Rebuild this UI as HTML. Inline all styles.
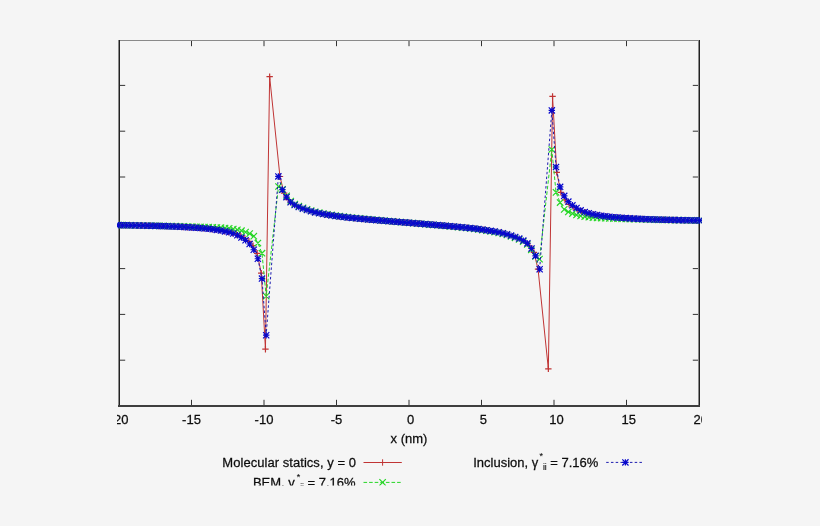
<!DOCTYPE html>
<html><head><meta charset="utf-8"><style>
html,body{margin:0;padding:0;background:#f5f5f5;}
svg{display:block;}
text{font-family:"Liberation Sans",Arial,sans-serif;font-size:13px;fill:#0d0d0d;stroke:#0d0d0d;stroke-width:0.25px;}
</style></head><body>
<svg width="820" height="526" viewBox="0 0 820 526"><defs><clipPath id="c"><rect x="117" y="0" width="585" height="485.4"/></clipPath><clipPath id="p"><rect x="117" y="36" width="586" height="372"/></clipPath></defs><rect width="820" height="526" fill="#f5f5f5"/><g clip-path="url(#c)"><rect x="118" y="40" width="582" height="1" fill="#8a8a8a"/><rect x="118" y="40" width="1" height="367" fill="#8a8a8a"/><rect x="119" y="40" width="1" height="367" fill="#222222"/><rect x="698" y="40" width="1" height="367" fill="#8a8a8a"/><rect x="699" y="40" width="1" height="367" fill="#222222"/><rect x="118" y="405" width="582" height="2" fill="#3e3e3e"/><path d="M120,85.4h5.2M698,85.4h-5.2M120,131.2h5.2M698,131.2h-5.2M120,177.0h5.2M698,177.0h-5.2M120,222.8h5.2M698,222.8h-5.2M120,268.6h5.2M698,268.6h-5.2M120,314.4h5.2M698,314.4h-5.2M120,360.2h5.2M698,360.2h-5.2M191.5,405v-5.2M191.5,41v5.2M264.0,405v-5.2M264.0,41v5.2M336.5,405v-5.2M336.5,41v5.2M409.0,405v-5.2M409.0,41v5.2M481.5,405v-5.2M481.5,41v5.2M554.0,405v-5.2M554.0,41v5.2M626.5,405v-5.2M626.5,41v5.2" stroke="#333" stroke-width="1" fill="none"/><text transform="translate(119.0,424) scale(1,1.04)" text-anchor="middle">-20</text><text transform="translate(191.5,424) scale(1,1.04)" text-anchor="middle">-15</text><text transform="translate(264.0,424) scale(1,1.04)" text-anchor="middle">-10</text><text transform="translate(336.5,424) scale(1,1.04)" text-anchor="middle">-5</text><text transform="translate(410.6,424) scale(1,1.04)" text-anchor="middle">0</text><text transform="translate(483.4,424) scale(1,1.04)" text-anchor="middle">5</text><text transform="translate(556.4,424) scale(1,1.04)" text-anchor="middle">10</text><text transform="translate(628.7,424) scale(1,1.04)" text-anchor="middle">15</text><text transform="translate(700.8,424) scale(1,1.04)" text-anchor="middle">20</text><text transform="translate(409,443) scale(1,1.04)" text-anchor="middle">x (nm)</text><g clip-path="url(#p)" fill="none"><path d="M121.78,225.19 L125.88,225.25 L129.98,225.32 L134.08,225.40 L138.18,225.48 L142.29,225.57 L146.39,225.66 L150.49,225.76 L154.59,225.87 L158.69,225.98 L162.80,226.11 L166.90,226.25 L171.00,226.40 L175.10,226.57 L179.20,226.75 L183.31,226.96 L187.41,227.19 L191.51,227.44 L195.61,227.71 L199.71,228.01 L203.82,228.34 L207.92,228.74 L212.02,229.22 L216.12,229.77 L220.22,230.42 L224.33,231.20 L228.43,232.11 L232.53,233.05 L236.63,234.44 L240.73,236.30 L244.84,238.48 L248.94,241.29 L253.04,245.63 L257.14,253.30 L261.25,273.20 L265.45,349.20 L269.65,76.70 L279.95,176.50 L284.11,193.21 L288.28,199.60 L292.44,203.60 L296.60,206.00 L300.76,207.86 L304.93,209.34 L309.09,210.70 L313.25,211.93 L317.42,212.90 L321.58,213.73 L325.74,214.47 L329.90,215.15 L334.07,215.78 L338.23,216.35 L342.39,216.87 L346.56,217.35 L350.72,217.79 L354.88,218.21 L359.05,218.60 L363.21,218.99 L367.37,219.37 L371.53,219.73 L375.70,220.09 L379.86,220.44 L384.02,220.78 L388.19,221.13 L392.35,221.47 L396.51,221.81 L400.67,222.14 L404.84,222.47 L409.00,222.80 L413.16,223.13 L417.33,223.46 L421.49,223.79 L425.65,224.13 L429.81,224.47 L433.98,224.82 L438.14,225.16 L442.30,225.51 L446.47,225.87 L450.63,226.23 L454.79,226.61 L458.95,227.00 L463.12,227.39 L467.28,227.81 L471.44,228.25 L475.61,228.73 L479.77,229.25 L483.93,229.82 L488.10,230.45 L492.26,231.13 L496.42,231.87 L500.58,232.70 L504.75,233.67 L508.91,234.90 L513.07,236.26 L517.24,237.74 L521.40,239.60 L525.56,242.00 L529.72,246.00 L533.89,252.39 L538.05,269.10 L548.35,368.90 L552.55,96.40 L556.75,172.40 L560.86,192.30 L564.96,199.97 L569.06,204.31 L573.16,207.12 L577.27,209.30 L581.37,211.16 L585.47,212.55 L589.57,213.49 L593.67,214.40 L597.78,215.18 L601.88,215.83 L605.98,216.38 L610.08,216.86 L614.18,217.26 L618.29,217.59 L622.39,217.89 L626.49,218.16 L630.59,218.41 L634.69,218.64 L638.80,218.85 L642.90,219.03 L647.00,219.20 L651.10,219.35 L655.20,219.49 L659.31,219.62 L663.41,219.73 L667.51,219.84 L671.61,219.94 L675.71,220.03 L679.82,220.12 L683.92,220.20 L688.02,220.28 L692.12,220.35 L696.22,220.41" stroke="#c03434" stroke-width="1"/><path d="M118.58,225.19h6.40M121.78,221.99v6.40M122.68,225.25h6.40M125.88,222.05v6.40M126.78,225.32h6.40M129.98,222.12v6.40M130.88,225.40h6.40M134.08,222.20v6.40M134.98,225.48h6.40M138.18,222.28v6.40M139.09,225.57h6.40M142.29,222.37v6.40M143.19,225.66h6.40M146.39,222.46v6.40M147.29,225.76h6.40M150.49,222.56v6.40M151.39,225.87h6.40M154.59,222.67v6.40M155.49,225.98h6.40M158.69,222.78v6.40M159.60,226.11h6.40M162.80,222.91v6.40M163.70,226.25h6.40M166.90,223.05v6.40M167.80,226.40h6.40M171.00,223.20v6.40M171.90,226.57h6.40M175.10,223.37v6.40M176.00,226.75h6.40M179.20,223.55v6.40M180.11,226.96h6.40M183.31,223.76v6.40M184.21,227.19h6.40M187.41,223.99v6.40M188.31,227.44h6.40M191.51,224.24v6.40M192.41,227.71h6.40M195.61,224.51v6.40M196.51,228.01h6.40M199.71,224.81v6.40M200.62,228.34h6.40M203.82,225.14v6.40M204.72,228.74h6.40M207.92,225.54v6.40M208.82,229.22h6.40M212.02,226.02v6.40M212.92,229.77h6.40M216.12,226.57v6.40M217.02,230.42h6.40M220.22,227.22v6.40M221.13,231.20h6.40M224.33,228.00v6.40M225.23,232.11h6.40M228.43,228.91v6.40M229.33,233.05h6.40M232.53,229.85v6.40M233.43,234.44h6.40M236.63,231.24v6.40M237.53,236.30h6.40M240.73,233.10v6.40M241.64,238.48h6.40M244.84,235.28v6.40M245.74,241.29h6.40M248.94,238.09v6.40M249.84,245.63h6.40M253.04,242.43v6.40M253.94,253.30h6.40M257.14,250.10v6.40M258.05,273.20h6.40M261.25,270.00v6.40M262.25,349.20h6.40M265.45,346.00v6.40M266.45,76.70h6.40M269.65,73.50v6.40M276.75,176.50h6.40M279.95,173.30v6.40M280.91,193.21h6.40M284.11,190.01v6.40M285.08,199.60h6.40M288.28,196.40v6.40M289.24,203.60h6.40M292.44,200.40v6.40M293.40,206.00h6.40M296.60,202.80v6.40M297.56,207.86h6.40M300.76,204.66v6.40M301.73,209.34h6.40M304.93,206.14v6.40M305.89,210.70h6.40M309.09,207.50v6.40M310.05,211.93h6.40M313.25,208.73v6.40M314.22,212.90h6.40M317.42,209.70v6.40M318.38,213.73h6.40M321.58,210.53v6.40M322.54,214.47h6.40M325.74,211.27v6.40M326.70,215.15h6.40M329.90,211.95v6.40M330.87,215.78h6.40M334.07,212.58v6.40M335.03,216.35h6.40M338.23,213.15v6.40M339.19,216.87h6.40M342.39,213.67v6.40M343.36,217.35h6.40M346.56,214.15v6.40M347.52,217.79h6.40M350.72,214.59v6.40M351.68,218.21h6.40M354.88,215.01v6.40M355.85,218.60h6.40M359.05,215.40v6.40M360.01,218.99h6.40M363.21,215.79v6.40M364.17,219.37h6.40M367.37,216.17v6.40M368.33,219.73h6.40M371.53,216.53v6.40M372.50,220.09h6.40M375.70,216.89v6.40M376.66,220.44h6.40M379.86,217.24v6.40M380.82,220.78h6.40M384.02,217.58v6.40M384.99,221.13h6.40M388.19,217.93v6.40M389.15,221.47h6.40M392.35,218.27v6.40M393.31,221.81h6.40M396.51,218.61v6.40M397.47,222.14h6.40M400.67,218.94v6.40M401.64,222.47h6.40M404.84,219.27v6.40M405.80,222.80h6.40M409.00,219.60v6.40M409.96,223.13h6.40M413.16,219.93v6.40M414.13,223.46h6.40M417.33,220.26v6.40M418.29,223.79h6.40M421.49,220.59v6.40M422.45,224.13h6.40M425.65,220.93v6.40M426.61,224.47h6.40M429.81,221.27v6.40M430.78,224.82h6.40M433.98,221.62v6.40M434.94,225.16h6.40M438.14,221.96v6.40M439.10,225.51h6.40M442.30,222.31v6.40M443.27,225.87h6.40M446.47,222.67v6.40M447.43,226.23h6.40M450.63,223.03v6.40M451.59,226.61h6.40M454.79,223.41v6.40M455.75,227.00h6.40M458.95,223.80v6.40M459.92,227.39h6.40M463.12,224.19v6.40M464.08,227.81h6.40M467.28,224.61v6.40M468.24,228.25h6.40M471.44,225.05v6.40M472.41,228.73h6.40M475.61,225.53v6.40M476.57,229.25h6.40M479.77,226.05v6.40M480.73,229.82h6.40M483.93,226.62v6.40M484.90,230.45h6.40M488.10,227.25v6.40M489.06,231.13h6.40M492.26,227.93v6.40M493.22,231.87h6.40M496.42,228.67v6.40M497.38,232.70h6.40M500.58,229.50v6.40M501.55,233.67h6.40M504.75,230.47v6.40M505.71,234.90h6.40M508.91,231.70v6.40M509.87,236.26h6.40M513.07,233.06v6.40M514.04,237.74h6.40M517.24,234.54v6.40M518.20,239.60h6.40M521.40,236.40v6.40M522.36,242.00h6.40M525.56,238.80v6.40M526.52,246.00h6.40M529.72,242.80v6.40M530.69,252.39h6.40M533.89,249.19v6.40M534.85,269.10h6.40M538.05,265.90v6.40M545.14,368.90h6.40M548.35,365.70v6.40M549.35,96.40h6.40M552.55,93.20v6.40M553.55,172.40h6.40M556.75,169.20v6.40M557.66,192.30h6.40M560.86,189.10v6.40M561.76,199.97h6.40M564.96,196.77v6.40M565.86,204.31h6.40M569.06,201.11v6.40M569.96,207.12h6.40M573.16,203.92v6.40M574.07,209.30h6.40M577.27,206.10v6.40M578.17,211.16h6.40M581.37,207.96v6.40M582.27,212.55h6.40M585.47,209.35v6.40M586.37,213.49h6.40M589.57,210.29v6.40M590.47,214.40h6.40M593.67,211.20v6.40M594.58,215.18h6.40M597.78,211.98v6.40M598.68,215.83h6.40M601.88,212.63v6.40M602.78,216.38h6.40M605.98,213.18v6.40M606.88,216.86h6.40M610.08,213.66v6.40M610.98,217.26h6.40M614.18,214.06v6.40M615.09,217.59h6.40M618.29,214.39v6.40M619.19,217.89h6.40M622.39,214.69v6.40M623.29,218.16h6.40M626.49,214.96v6.40M627.39,218.41h6.40M630.59,215.21v6.40M631.49,218.64h6.40M634.69,215.44v6.40M635.60,218.85h6.40M638.80,215.65v6.40M639.70,219.03h6.40M642.90,215.83v6.40M643.80,219.20h6.40M647.00,216.00v6.40M647.90,219.35h6.40M651.10,216.15v6.40M652.00,219.49h6.40M655.20,216.29v6.40M656.11,219.62h6.40M659.31,216.42v6.40M660.21,219.73h6.40M663.41,216.53v6.40M664.31,219.84h6.40M667.51,216.64v6.40M668.41,219.94h6.40M671.61,216.74v6.40M672.51,220.03h6.40M675.71,216.83v6.40M676.62,220.12h6.40M679.82,216.92v6.40M680.72,220.20h6.40M683.92,217.00v6.40M684.82,220.28h6.40M688.02,217.08v6.40M688.92,220.35h6.40M692.12,217.15v6.40M693.02,220.41h6.40M696.22,217.21v6.40" stroke="#c03434" stroke-width="1.2"/><path d="M118.40,225.14 L122.50,225.19 L126.60,225.24 L130.70,225.30 L134.81,225.37 L138.91,225.44 L143.01,225.51 L147.11,225.59 L151.21,225.67 L155.32,225.75 L159.42,225.84 L163.52,225.92 L167.62,226.02 L171.72,226.13 L175.83,226.24 L179.93,226.36 L184.03,226.47 L188.13,226.58 L192.24,226.69 L196.34,226.80 L200.44,226.92 L204.54,227.05 L208.64,227.20 L212.75,227.35 L216.85,227.53 L220.95,227.74 L225.05,228.00 L229.15,228.40 L233.26,229.02 L237.36,229.75 L241.46,230.68 L245.56,232.02 L249.66,233.63 L253.77,236.21 L257.87,243.01 L261.97,253.20 L266.18,296.10 L278.50,186.50 L282.58,189.30 L286.66,195.82 L290.73,201.10 L294.81,204.01 L298.89,206.11 L302.97,207.83 L307.05,209.27 L311.12,210.64 L315.20,211.79 L319.28,212.72 L323.36,213.53 L327.44,214.27 L331.52,214.95 L335.59,215.58 L339.67,216.16 L343.75,216.69 L347.83,217.17 L351.91,217.62 L355.98,218.05 L360.06,218.45 L364.14,218.85 L368.22,219.24 L372.30,219.62 L376.38,219.99 L380.45,220.35 L384.53,220.71 L388.61,221.07 L392.69,221.42 L396.77,221.77 L400.84,222.12 L404.92,222.46 L409.00,222.80 L413.08,223.14 L417.16,223.48 L421.23,223.83 L425.31,224.18 L429.39,224.53 L433.47,224.89 L437.55,225.25 L441.62,225.61 L445.70,225.98 L449.78,226.36 L453.86,226.75 L457.94,227.15 L462.02,227.55 L466.09,227.98 L470.17,228.43 L474.25,228.91 L478.33,229.44 L482.41,230.02 L486.48,230.65 L490.56,231.33 L494.64,232.07 L498.72,232.88 L502.80,233.81 L506.88,234.96 L510.95,236.33 L515.03,237.77 L519.11,239.49 L523.19,241.59 L527.27,244.50 L531.34,249.78 L535.42,256.30 L539.50,259.10 L551.83,149.50 L556.03,192.40 L560.13,202.59 L564.23,209.39 L568.34,211.97 L572.44,213.58 L576.54,214.92 L580.64,215.85 L584.74,216.58 L588.85,217.20 L592.95,217.60 L597.05,217.86 L601.15,218.07 L605.25,218.25 L609.36,218.40 L613.46,218.55 L617.56,218.68 L621.66,218.80 L625.76,218.91 L629.87,219.02 L633.97,219.13 L638.07,219.24 L642.17,219.36 L646.28,219.47 L650.38,219.58 L654.48,219.68 L658.58,219.76 L662.68,219.85 L666.79,219.93 L670.89,220.01 L674.99,220.09 L679.09,220.16 L683.19,220.23 L687.30,220.30 L691.40,220.36 L695.50,220.41 L699.60,220.46" stroke="#26d626" stroke-width="1" stroke-dasharray="3.6,2"/><path d="M115.20,221.94l6.40,6.40M115.20,228.34l6.40,-6.40M119.30,221.99l6.40,6.40M119.30,228.39l6.40,-6.40M123.40,222.04l6.40,6.40M123.40,228.44l6.40,-6.40M127.50,222.10l6.40,6.40M127.50,228.50l6.40,-6.40M131.61,222.17l6.40,6.40M131.61,228.57l6.40,-6.40M135.71,222.24l6.40,6.40M135.71,228.64l6.40,-6.40M139.81,222.31l6.40,6.40M139.81,228.71l6.40,-6.40M143.91,222.39l6.40,6.40M143.91,228.79l6.40,-6.40M148.01,222.47l6.40,6.40M148.01,228.87l6.40,-6.40M152.12,222.55l6.40,6.40M152.12,228.95l6.40,-6.40M156.22,222.64l6.40,6.40M156.22,229.04l6.40,-6.40M160.32,222.72l6.40,6.40M160.32,229.12l6.40,-6.40M164.42,222.82l6.40,6.40M164.42,229.22l6.40,-6.40M168.52,222.93l6.40,6.40M168.52,229.33l6.40,-6.40M172.63,223.04l6.40,6.40M172.63,229.44l6.40,-6.40M176.73,223.16l6.40,6.40M176.73,229.56l6.40,-6.40M180.83,223.27l6.40,6.40M180.83,229.67l6.40,-6.40M184.93,223.38l6.40,6.40M184.93,229.78l6.40,-6.40M189.04,223.49l6.40,6.40M189.04,229.89l6.40,-6.40M193.14,223.60l6.40,6.40M193.14,230.00l6.40,-6.40M197.24,223.72l6.40,6.40M197.24,230.12l6.40,-6.40M201.34,223.85l6.40,6.40M201.34,230.25l6.40,-6.40M205.44,224.00l6.40,6.40M205.44,230.40l6.40,-6.40M209.55,224.15l6.40,6.40M209.55,230.55l6.40,-6.40M213.65,224.33l6.40,6.40M213.65,230.73l6.40,-6.40M217.75,224.54l6.40,6.40M217.75,230.94l6.40,-6.40M221.85,224.80l6.40,6.40M221.85,231.20l6.40,-6.40M225.95,225.20l6.40,6.40M225.95,231.60l6.40,-6.40M230.06,225.82l6.40,6.40M230.06,232.22l6.40,-6.40M234.16,226.55l6.40,6.40M234.16,232.95l6.40,-6.40M238.26,227.48l6.40,6.40M238.26,233.88l6.40,-6.40M242.36,228.82l6.40,6.40M242.36,235.22l6.40,-6.40M246.46,230.43l6.40,6.40M246.46,236.83l6.40,-6.40M250.57,233.01l6.40,6.40M250.57,239.41l6.40,-6.40M254.67,239.81l6.40,6.40M254.67,246.21l6.40,-6.40M258.77,250.00l6.40,6.40M258.77,256.40l6.40,-6.40M262.98,292.90l6.40,6.40M262.98,299.30l6.40,-6.40M275.30,183.30l6.40,6.40M275.30,189.70l6.40,-6.40M279.38,186.10l6.40,6.40M279.38,192.50l6.40,-6.40M283.46,192.62l6.40,6.40M283.46,199.02l6.40,-6.40M287.53,197.90l6.40,6.40M287.53,204.30l6.40,-6.40M291.61,200.81l6.40,6.40M291.61,207.21l6.40,-6.40M295.69,202.91l6.40,6.40M295.69,209.31l6.40,-6.40M299.77,204.63l6.40,6.40M299.77,211.03l6.40,-6.40M303.85,206.07l6.40,6.40M303.85,212.47l6.40,-6.40M307.93,207.44l6.40,6.40M307.93,213.84l6.40,-6.40M312.00,208.59l6.40,6.40M312.00,214.99l6.40,-6.40M316.08,209.52l6.40,6.40M316.08,215.92l6.40,-6.40M320.16,210.33l6.40,6.40M320.16,216.73l6.40,-6.40M324.24,211.07l6.40,6.40M324.24,217.47l6.40,-6.40M328.32,211.75l6.40,6.40M328.32,218.15l6.40,-6.40M332.39,212.38l6.40,6.40M332.39,218.78l6.40,-6.40M336.47,212.96l6.40,6.40M336.47,219.36l6.40,-6.40M340.55,213.49l6.40,6.40M340.55,219.89l6.40,-6.40M344.63,213.97l6.40,6.40M344.63,220.37l6.40,-6.40M348.71,214.42l6.40,6.40M348.71,220.82l6.40,-6.40M352.78,214.85l6.40,6.40M352.78,221.25l6.40,-6.40M356.86,215.25l6.40,6.40M356.86,221.65l6.40,-6.40M360.94,215.65l6.40,6.40M360.94,222.05l6.40,-6.40M365.02,216.04l6.40,6.40M365.02,222.44l6.40,-6.40M369.10,216.42l6.40,6.40M369.10,222.82l6.40,-6.40M373.18,216.79l6.40,6.40M373.18,223.19l6.40,-6.40M377.25,217.15l6.40,6.40M377.25,223.55l6.40,-6.40M381.33,217.51l6.40,6.40M381.33,223.91l6.40,-6.40M385.41,217.87l6.40,6.40M385.41,224.27l6.40,-6.40M389.49,218.22l6.40,6.40M389.49,224.62l6.40,-6.40M393.57,218.57l6.40,6.40M393.57,224.97l6.40,-6.40M397.64,218.92l6.40,6.40M397.64,225.32l6.40,-6.40M401.72,219.26l6.40,6.40M401.72,225.66l6.40,-6.40M405.80,219.60l6.40,6.40M405.80,226.00l6.40,-6.40M409.88,219.94l6.40,6.40M409.88,226.34l6.40,-6.40M413.96,220.28l6.40,6.40M413.96,226.68l6.40,-6.40M418.03,220.63l6.40,6.40M418.03,227.03l6.40,-6.40M422.11,220.98l6.40,6.40M422.11,227.38l6.40,-6.40M426.19,221.33l6.40,6.40M426.19,227.73l6.40,-6.40M430.27,221.69l6.40,6.40M430.27,228.09l6.40,-6.40M434.35,222.05l6.40,6.40M434.35,228.45l6.40,-6.40M438.43,222.41l6.40,6.40M438.43,228.81l6.40,-6.40M442.50,222.78l6.40,6.40M442.50,229.18l6.40,-6.40M446.58,223.16l6.40,6.40M446.58,229.56l6.40,-6.40M450.66,223.55l6.40,6.40M450.66,229.95l6.40,-6.40M454.74,223.95l6.40,6.40M454.74,230.35l6.40,-6.40M458.82,224.35l6.40,6.40M458.82,230.75l6.40,-6.40M462.89,224.78l6.40,6.40M462.89,231.18l6.40,-6.40M466.97,225.23l6.40,6.40M466.97,231.63l6.40,-6.40M471.05,225.71l6.40,6.40M471.05,232.11l6.40,-6.40M475.13,226.24l6.40,6.40M475.13,232.64l6.40,-6.40M479.21,226.82l6.40,6.40M479.21,233.22l6.40,-6.40M483.28,227.45l6.40,6.40M483.28,233.85l6.40,-6.40M487.36,228.13l6.40,6.40M487.36,234.53l6.40,-6.40M491.44,228.87l6.40,6.40M491.44,235.27l6.40,-6.40M495.52,229.68l6.40,6.40M495.52,236.08l6.40,-6.40M499.60,230.61l6.40,6.40M499.60,237.01l6.40,-6.40M503.68,231.76l6.40,6.40M503.68,238.16l6.40,-6.40M507.75,233.13l6.40,6.40M507.75,239.53l6.40,-6.40M511.83,234.57l6.40,6.40M511.83,240.97l6.40,-6.40M515.91,236.29l6.40,6.40M515.91,242.69l6.40,-6.40M519.99,238.39l6.40,6.40M519.99,244.79l6.40,-6.40M524.07,241.30l6.40,6.40M524.07,247.70l6.40,-6.40M528.14,246.58l6.40,6.40M528.14,252.98l6.40,-6.40M532.22,253.10l6.40,6.40M532.22,259.50l6.40,-6.40M536.30,255.90l6.40,6.40M536.30,262.30l6.40,-6.40M548.62,146.30l6.40,6.40M548.62,152.70l6.40,-6.40M552.83,189.20l6.40,6.40M552.83,195.60l6.40,-6.40M556.93,199.39l6.40,6.40M556.93,205.79l6.40,-6.40M561.03,206.19l6.40,6.40M561.03,212.59l6.40,-6.40M565.14,208.77l6.40,6.40M565.14,215.17l6.40,-6.40M569.24,210.38l6.40,6.40M569.24,216.78l6.40,-6.40M573.34,211.72l6.40,6.40M573.34,218.12l6.40,-6.40M577.44,212.65l6.40,6.40M577.44,219.05l6.40,-6.40M581.54,213.38l6.40,6.40M581.54,219.78l6.40,-6.40M585.65,214.00l6.40,6.40M585.65,220.40l6.40,-6.40M589.75,214.40l6.40,6.40M589.75,220.80l6.40,-6.40M593.85,214.66l6.40,6.40M593.85,221.06l6.40,-6.40M597.95,214.87l6.40,6.40M597.95,221.27l6.40,-6.40M602.05,215.05l6.40,6.40M602.05,221.45l6.40,-6.40M606.16,215.20l6.40,6.40M606.16,221.60l6.40,-6.40M610.26,215.35l6.40,6.40M610.26,221.75l6.40,-6.40M614.36,215.48l6.40,6.40M614.36,221.88l6.40,-6.40M618.46,215.60l6.40,6.40M618.46,222.00l6.40,-6.40M622.56,215.71l6.40,6.40M622.56,222.11l6.40,-6.40M626.67,215.82l6.40,6.40M626.67,222.22l6.40,-6.40M630.77,215.93l6.40,6.40M630.77,222.33l6.40,-6.40M634.87,216.04l6.40,6.40M634.87,222.44l6.40,-6.40M638.97,216.16l6.40,6.40M638.97,222.56l6.40,-6.40M643.08,216.27l6.40,6.40M643.08,222.67l6.40,-6.40M647.18,216.38l6.40,6.40M647.18,222.78l6.40,-6.40M651.28,216.48l6.40,6.40M651.28,222.88l6.40,-6.40M655.38,216.56l6.40,6.40M655.38,222.96l6.40,-6.40M659.48,216.65l6.40,6.40M659.48,223.05l6.40,-6.40M663.59,216.73l6.40,6.40M663.59,223.13l6.40,-6.40M667.69,216.81l6.40,6.40M667.69,223.21l6.40,-6.40M671.79,216.89l6.40,6.40M671.79,223.29l6.40,-6.40M675.89,216.96l6.40,6.40M675.89,223.36l6.40,-6.40M679.99,217.03l6.40,6.40M679.99,223.43l6.40,-6.40M684.10,217.10l6.40,6.40M684.10,223.50l6.40,-6.40M688.20,217.16l6.40,6.40M688.20,223.56l6.40,-6.40M692.30,217.21l6.40,6.40M692.30,223.61l6.40,-6.40M696.40,217.26l6.40,6.40M696.40,223.66l6.40,-6.40" stroke="#26d626" stroke-width="1.2"/><path d="M118.40,225.14 L122.50,225.20 L126.60,225.26 L130.70,225.34 L134.81,225.41 L138.91,225.50 L143.01,225.59 L147.11,225.68 L151.21,225.78 L155.32,225.89 L159.42,226.00 L163.52,226.13 L167.62,226.27 L171.72,226.43 L175.83,226.60 L179.93,226.79 L184.03,227.00 L188.13,227.23 L192.24,227.48 L196.34,227.76 L200.44,228.06 L204.54,228.41 L208.64,228.82 L212.75,229.31 L216.85,229.88 L220.95,230.55 L225.05,231.36 L229.15,232.32 L233.26,233.52 L237.36,235.27 L241.46,237.58 L245.56,240.29 L249.66,244.00 L253.77,249.75 L257.87,258.77 L261.97,278.60 L266.18,335.20 L278.36,176.40 L282.44,189.71 L286.52,197.15 L290.60,202.21 L294.69,205.00 L298.77,207.00 L302.85,208.63 L306.93,210.00 L311.02,211.30 L315.10,212.38 L319.18,213.27 L323.26,214.04 L327.35,214.74 L331.43,215.39 L335.51,215.98 L339.59,216.53 L343.68,217.03 L347.76,217.48 L351.84,217.91 L355.93,218.31 L360.01,218.69 L364.09,219.07 L368.17,219.44 L372.26,219.80 L376.34,220.14 L380.42,220.48 L384.50,220.82 L388.59,221.16 L392.67,221.50 L396.75,221.83 L400.83,222.16 L404.92,222.48 L409.00,222.80 L413.08,223.12 L417.17,223.44 L421.25,223.77 L425.33,224.10 L429.41,224.44 L433.50,224.78 L437.58,225.12 L441.66,225.46 L445.74,225.80 L449.83,226.16 L453.91,226.53 L457.99,226.91 L462.07,227.29 L466.16,227.69 L470.24,228.12 L474.32,228.57 L478.41,229.07 L482.49,229.62 L486.57,230.21 L490.65,230.86 L494.74,231.56 L498.82,232.33 L502.90,233.22 L506.98,234.30 L511.07,235.60 L515.15,236.97 L519.23,238.60 L523.31,240.60 L527.40,243.39 L531.48,248.45 L535.56,255.89 L539.64,269.20 L551.83,110.40 L556.03,167.00 L560.13,186.83 L564.23,195.85 L568.34,201.60 L572.44,205.31 L576.54,208.02 L580.64,210.33 L584.74,212.08 L588.85,213.28 L592.95,214.24 L597.05,215.05 L601.15,215.72 L605.25,216.29 L609.36,216.78 L613.46,217.19 L617.56,217.54 L621.66,217.84 L625.76,218.12 L629.87,218.37 L633.97,218.60 L638.07,218.81 L642.17,219.00 L646.28,219.17 L650.38,219.33 L654.48,219.47 L658.58,219.60 L662.68,219.71 L666.79,219.82 L670.89,219.92 L674.99,220.01 L679.09,220.10 L683.19,220.19 L687.30,220.26 L691.40,220.34 L695.50,220.40 L699.60,220.46" stroke="#1c1cb0" stroke-width="1" stroke-dasharray="2.5,2.25"/><path d="M115.20,225.14h6.40M118.40,221.94v6.40M115.29,222.04l6.21,6.21M115.29,228.25l6.21,-6.21M119.30,225.20h6.40M122.50,222.00v6.40M119.40,222.10l6.21,6.21M119.40,228.30l6.21,-6.21M123.40,225.26h6.40M126.60,222.06v6.40M123.50,222.16l6.21,6.21M123.50,228.37l6.21,-6.21M127.50,225.34h6.40M130.70,222.14v6.40M127.60,222.23l6.21,6.21M127.60,228.44l6.21,-6.21M131.61,225.41h6.40M134.81,222.21v6.40M131.70,222.31l6.21,6.21M131.70,228.52l6.21,-6.21M135.71,225.50h6.40M138.91,222.30v6.40M135.80,222.39l6.21,6.21M135.80,228.60l6.21,-6.21M139.81,225.59h6.40M143.01,222.39v6.40M139.91,222.48l6.21,6.21M139.91,228.69l6.21,-6.21M143.91,225.68h6.40M147.11,222.48v6.40M144.01,222.58l6.21,6.21M144.01,228.78l6.21,-6.21M148.01,225.78h6.40M151.21,222.58v6.40M148.11,222.67l6.21,6.21M148.11,228.88l6.21,-6.21M152.12,225.89h6.40M155.32,222.69v6.40M152.21,222.78l6.21,6.21M152.21,228.99l6.21,-6.21M156.22,226.00h6.40M159.42,222.80v6.40M156.31,222.90l6.21,6.21M156.31,229.11l6.21,-6.21M160.32,226.13h6.40M163.52,222.93v6.40M160.42,223.03l6.21,6.21M160.42,229.24l6.21,-6.21M164.42,226.27h6.40M167.62,223.07v6.40M164.52,223.17l6.21,6.21M164.52,229.38l6.21,-6.21M168.52,226.43h6.40M171.72,223.23v6.40M168.62,223.32l6.21,6.21M168.62,229.53l6.21,-6.21M172.63,226.60h6.40M175.83,223.40v6.40M172.72,223.49l6.21,6.21M172.72,229.70l6.21,-6.21M176.73,226.79h6.40M179.93,223.59v6.40M176.83,223.68l6.21,6.21M176.83,229.89l6.21,-6.21M180.83,227.00h6.40M184.03,223.80v6.40M180.93,223.89l6.21,6.21M180.93,230.10l6.21,-6.21M184.93,227.23h6.40M188.13,224.03v6.40M185.03,224.12l6.21,6.21M185.03,230.33l6.21,-6.21M189.04,227.48h6.40M192.24,224.28v6.40M189.13,224.38l6.21,6.21M189.13,230.59l6.21,-6.21M193.14,227.76h6.40M196.34,224.56v6.40M193.23,224.66l6.21,6.21M193.23,230.86l6.21,-6.21M197.24,228.06h6.40M200.44,224.86v6.40M197.34,224.96l6.21,6.21M197.34,231.17l6.21,-6.21M201.34,228.41h6.40M204.54,225.21v6.40M201.44,225.30l6.21,6.21M201.44,231.51l6.21,-6.21M205.44,228.82h6.40M208.64,225.62v6.40M205.54,225.72l6.21,6.21M205.54,231.92l6.21,-6.21M209.55,229.31h6.40M212.75,226.11v6.40M209.64,226.21l6.21,6.21M209.64,232.41l6.21,-6.21M213.65,229.88h6.40M216.85,226.68v6.40M213.74,226.78l6.21,6.21M213.74,232.99l6.21,-6.21M217.75,230.55h6.40M220.95,227.35v6.40M217.85,227.45l6.21,6.21M217.85,233.66l6.21,-6.21M221.85,231.36h6.40M225.05,228.16v6.40M221.95,228.25l6.21,6.21M221.95,234.46l6.21,-6.21M225.95,232.32h6.40M229.15,229.12v6.40M226.05,229.22l6.21,6.21M226.05,235.43l6.21,-6.21M230.06,233.52h6.40M233.26,230.32v6.40M230.15,230.42l6.21,6.21M230.15,236.62l6.21,-6.21M234.16,235.27h6.40M237.36,232.07v6.40M234.25,232.17l6.21,6.21M234.25,238.38l6.21,-6.21M238.26,237.58h6.40M241.46,234.38v6.40M238.36,234.47l6.21,6.21M238.36,240.68l6.21,-6.21M242.36,240.29h6.40M245.56,237.09v6.40M242.46,237.18l6.21,6.21M242.46,243.39l6.21,-6.21M246.46,244.00h6.40M249.66,240.80v6.40M246.56,240.90l6.21,6.21M246.56,247.10l6.21,-6.21M250.57,249.75h6.40M253.77,246.55v6.40M250.66,246.65l6.21,6.21M250.66,252.86l6.21,-6.21M254.67,258.77h6.40M257.87,255.57v6.40M254.76,255.67l6.21,6.21M254.76,261.88l6.21,-6.21M258.77,278.60h6.40M261.97,275.40v6.40M258.87,275.50l6.21,6.21M258.87,281.70l6.21,-6.21M262.98,335.20h6.40M266.18,332.00v6.40M263.07,332.10l6.21,6.21M263.07,338.30l6.21,-6.21M275.16,176.40h6.40M278.36,173.20v6.40M275.25,173.30l6.21,6.21M275.25,179.50l6.21,-6.21M279.24,189.71h6.40M282.44,186.51v6.40M279.33,186.61l6.21,6.21M279.33,192.82l6.21,-6.21M283.32,197.15h6.40M286.52,193.95v6.40M283.42,194.04l6.21,6.21M283.42,200.25l6.21,-6.21M287.40,202.21h6.40M290.60,199.01v6.40M287.50,199.11l6.21,6.21M287.50,205.32l6.21,-6.21M291.49,205.00h6.40M294.69,201.80v6.40M291.58,201.90l6.21,6.21M291.58,208.11l6.21,-6.21M295.57,207.00h6.40M298.77,203.80v6.40M295.66,203.90l6.21,6.21M295.66,210.11l6.21,-6.21M299.65,208.63h6.40M302.85,205.43v6.40M299.75,205.53l6.21,6.21M299.75,211.74l6.21,-6.21M303.73,210.00h6.40M306.93,206.80v6.40M303.83,206.89l6.21,6.21M303.83,213.10l6.21,-6.21M307.82,211.30h6.40M311.02,208.10v6.40M307.91,208.20l6.21,6.21M307.91,214.40l6.21,-6.21M311.90,212.38h6.40M315.10,209.18v6.40M311.99,209.28l6.21,6.21M311.99,215.49l6.21,-6.21M315.98,213.27h6.40M319.18,210.07v6.40M316.08,210.16l6.21,6.21M316.08,216.37l6.21,-6.21M320.06,214.04h6.40M323.26,210.84v6.40M320.16,210.94l6.21,6.21M320.16,217.15l6.21,-6.21M324.15,214.74h6.40M327.35,211.54v6.40M324.24,211.63l6.21,6.21M324.24,217.84l6.21,-6.21M328.23,215.39h6.40M331.43,212.19v6.40M328.33,212.28l6.21,6.21M328.33,218.49l6.21,-6.21M332.31,215.98h6.40M335.51,212.78v6.40M332.41,212.88l6.21,6.21M332.41,219.09l6.21,-6.21M336.39,216.53h6.40M339.59,213.33v6.40M336.49,213.42l6.21,6.21M336.49,219.63l6.21,-6.21M340.48,217.03h6.40M343.68,213.83v6.40M340.57,213.92l6.21,6.21M340.57,220.13l6.21,-6.21M344.56,217.48h6.40M347.76,214.28v6.40M344.66,214.38l6.21,6.21M344.66,220.59l6.21,-6.21M348.64,217.91h6.40M351.84,214.71v6.40M348.74,214.80l6.21,6.21M348.74,221.01l6.21,-6.21M352.73,218.31h6.40M355.93,215.11v6.40M352.82,215.20l6.21,6.21M352.82,221.41l6.21,-6.21M356.81,218.69h6.40M360.01,215.49v6.40M356.90,215.59l6.21,6.21M356.90,221.80l6.21,-6.21M360.89,219.07h6.40M364.09,215.87v6.40M360.99,215.97l6.21,6.21M360.99,222.17l6.21,-6.21M364.97,219.44h6.40M368.17,216.24v6.40M365.07,216.34l6.21,6.21M365.07,222.55l6.21,-6.21M369.06,219.80h6.40M372.26,216.60v6.40M369.15,216.69l6.21,6.21M369.15,222.90l6.21,-6.21M373.14,220.14h6.40M376.34,216.94v6.40M373.23,217.04l6.21,6.21M373.23,223.25l6.21,-6.21M377.22,220.48h6.40M380.42,217.28v6.40M377.32,217.38l6.21,6.21M377.32,223.59l6.21,-6.21M381.30,220.82h6.40M384.50,217.62v6.40M381.40,217.72l6.21,6.21M381.40,223.93l6.21,-6.21M385.39,221.16h6.40M388.59,217.96v6.40M385.48,218.06l6.21,6.21M385.48,224.27l6.21,-6.21M389.47,221.50h6.40M392.67,218.30v6.40M389.57,218.39l6.21,6.21M389.57,224.60l6.21,-6.21M393.55,221.83h6.40M396.75,218.63v6.40M393.65,218.72l6.21,6.21M393.65,224.93l6.21,-6.21M397.63,222.16h6.40M400.83,218.96v6.40M397.73,219.05l6.21,6.21M397.73,225.26l6.21,-6.21M401.72,222.48h6.40M404.92,219.28v6.40M401.81,219.38l6.21,6.21M401.81,225.58l6.21,-6.21M405.80,222.80h6.40M409.00,219.60v6.40M405.90,219.70l6.21,6.21M405.90,225.90l6.21,-6.21M409.88,223.12h6.40M413.08,219.92v6.40M409.98,220.02l6.21,6.21M409.98,226.22l6.21,-6.21M413.97,223.44h6.40M417.17,220.24v6.40M414.06,220.34l6.21,6.21M414.06,226.55l6.21,-6.21M418.05,223.77h6.40M421.25,220.57v6.40M418.14,220.67l6.21,6.21M418.14,226.88l6.21,-6.21M422.13,224.10h6.40M425.33,220.90v6.40M422.23,221.00l6.21,6.21M422.23,227.21l6.21,-6.21M426.21,224.44h6.40M429.41,221.24v6.40M426.31,221.33l6.21,6.21M426.31,227.54l6.21,-6.21M430.30,224.78h6.40M433.50,221.58v6.40M430.39,221.67l6.21,6.21M430.39,227.88l6.21,-6.21M434.38,225.12h6.40M437.58,221.92v6.40M434.47,222.01l6.21,6.21M434.47,228.22l6.21,-6.21M438.46,225.46h6.40M441.66,222.26v6.40M438.56,222.35l6.21,6.21M438.56,228.56l6.21,-6.21M442.54,225.80h6.40M445.74,222.60v6.40M442.64,222.70l6.21,6.21M442.64,228.91l6.21,-6.21M446.63,226.16h6.40M449.83,222.96v6.40M446.72,223.05l6.21,6.21M446.72,229.26l6.21,-6.21M450.71,226.53h6.40M453.91,223.33v6.40M450.81,223.43l6.21,6.21M450.81,229.63l6.21,-6.21M454.79,226.91h6.40M457.99,223.71v6.40M454.89,223.80l6.21,6.21M454.89,230.01l6.21,-6.21M458.87,227.29h6.40M462.07,224.09v6.40M458.97,224.19l6.21,6.21M458.97,230.40l6.21,-6.21M462.96,227.69h6.40M466.16,224.49v6.40M463.05,224.59l6.21,6.21M463.05,230.80l6.21,-6.21M467.04,228.12h6.40M470.24,224.92v6.40M467.14,225.01l6.21,6.21M467.14,231.22l6.21,-6.21M471.12,228.57h6.40M474.32,225.37v6.40M471.22,225.47l6.21,6.21M471.22,231.68l6.21,-6.21M475.21,229.07h6.40M478.41,225.87v6.40M475.30,225.97l6.21,6.21M475.30,232.18l6.21,-6.21M479.29,229.62h6.40M482.49,226.42v6.40M479.38,226.51l6.21,6.21M479.38,232.72l6.21,-6.21M483.37,230.21h6.40M486.57,227.01v6.40M483.47,227.11l6.21,6.21M483.47,233.32l6.21,-6.21M487.45,230.86h6.40M490.65,227.66v6.40M487.55,227.76l6.21,6.21M487.55,233.97l6.21,-6.21M491.54,231.56h6.40M494.74,228.36v6.40M491.63,228.45l6.21,6.21M491.63,234.66l6.21,-6.21M495.62,232.33h6.40M498.82,229.13v6.40M495.71,229.23l6.21,6.21M495.71,235.44l6.21,-6.21M499.70,233.22h6.40M502.90,230.02v6.40M499.80,230.11l6.21,6.21M499.80,236.32l6.21,-6.21M503.78,234.30h6.40M506.98,231.10v6.40M503.88,231.20l6.21,6.21M503.88,237.40l6.21,-6.21M507.87,235.60h6.40M511.07,232.40v6.40M507.96,232.50l6.21,6.21M507.96,238.71l6.21,-6.21M511.95,236.97h6.40M515.15,233.77v6.40M512.05,233.86l6.21,6.21M512.05,240.07l6.21,-6.21M516.03,238.60h6.40M519.23,235.40v6.40M516.13,235.49l6.21,6.21M516.13,241.70l6.21,-6.21M520.11,240.60h6.40M523.31,237.40v6.40M520.21,237.49l6.21,6.21M520.21,243.70l6.21,-6.21M524.20,243.39h6.40M527.40,240.19v6.40M524.29,240.28l6.21,6.21M524.29,246.49l6.21,-6.21M528.28,248.45h6.40M531.48,245.25v6.40M528.38,245.35l6.21,6.21M528.38,251.56l6.21,-6.21M532.36,255.89h6.40M535.56,252.69v6.40M532.46,252.78l6.21,6.21M532.46,258.99l6.21,-6.21M536.44,269.20h6.40M539.64,266.00v6.40M536.54,266.10l6.21,6.21M536.54,272.30l6.21,-6.21M548.62,110.40h6.40M551.83,107.20v6.40M548.72,107.30l6.21,6.21M548.72,113.50l6.21,-6.21M552.83,167.00h6.40M556.03,163.80v6.40M552.93,163.90l6.21,6.21M552.93,170.10l6.21,-6.21M556.93,186.83h6.40M560.13,183.63v6.40M557.03,183.72l6.21,6.21M557.03,189.93l6.21,-6.21M561.03,195.85h6.40M564.23,192.65v6.40M561.13,192.74l6.21,6.21M561.13,198.95l6.21,-6.21M565.14,201.60h6.40M568.34,198.40v6.40M565.23,198.50l6.21,6.21M565.23,204.70l6.21,-6.21M569.24,205.31h6.40M572.44,202.11v6.40M569.33,202.21l6.21,6.21M569.33,208.42l6.21,-6.21M573.34,208.02h6.40M576.54,204.82v6.40M573.44,204.92l6.21,6.21M573.44,211.13l6.21,-6.21M577.44,210.33h6.40M580.64,207.13v6.40M577.54,207.22l6.21,6.21M577.54,213.43l6.21,-6.21M581.54,212.08h6.40M584.74,208.88v6.40M581.64,208.98l6.21,6.21M581.64,215.18l6.21,-6.21M585.65,213.28h6.40M588.85,210.08v6.40M585.74,210.17l6.21,6.21M585.74,216.38l6.21,-6.21M589.75,214.24h6.40M592.95,211.04v6.40M589.84,211.14l6.21,6.21M589.84,217.35l6.21,-6.21M593.85,215.05h6.40M597.05,211.85v6.40M593.95,211.94l6.21,6.21M593.95,218.15l6.21,-6.21M597.95,215.72h6.40M601.15,212.52v6.40M598.05,212.61l6.21,6.21M598.05,218.82l6.21,-6.21M602.05,216.29h6.40M605.25,213.09v6.40M602.15,213.19l6.21,6.21M602.15,219.39l6.21,-6.21M606.16,216.78h6.40M609.36,213.58v6.40M606.25,213.68l6.21,6.21M606.25,219.88l6.21,-6.21M610.26,217.19h6.40M613.46,213.99v6.40M610.35,214.09l6.21,6.21M610.35,220.30l6.21,-6.21M614.36,217.54h6.40M617.56,214.34v6.40M614.46,214.43l6.21,6.21M614.46,220.64l6.21,-6.21M618.46,217.84h6.40M621.66,214.64v6.40M618.56,214.74l6.21,6.21M618.56,220.94l6.21,-6.21M622.56,218.12h6.40M625.76,214.92v6.40M622.66,215.01l6.21,6.21M622.66,221.22l6.21,-6.21M626.67,218.37h6.40M629.87,215.17v6.40M626.76,215.27l6.21,6.21M626.76,221.48l6.21,-6.21M630.77,218.60h6.40M633.97,215.40v6.40M630.86,215.50l6.21,6.21M630.86,221.71l6.21,-6.21M634.87,218.81h6.40M638.07,215.61v6.40M634.97,215.71l6.21,6.21M634.97,221.92l6.21,-6.21M638.97,219.00h6.40M642.17,215.80v6.40M639.07,215.90l6.21,6.21M639.07,222.11l6.21,-6.21M643.08,219.17h6.40M646.28,215.97v6.40M643.17,216.07l6.21,6.21M643.17,222.28l6.21,-6.21M647.18,219.33h6.40M650.38,216.13v6.40M647.27,216.22l6.21,6.21M647.27,222.43l6.21,-6.21M651.28,219.47h6.40M654.48,216.27v6.40M651.38,216.36l6.21,6.21M651.38,222.57l6.21,-6.21M655.38,219.60h6.40M658.58,216.40v6.40M655.48,216.49l6.21,6.21M655.48,222.70l6.21,-6.21M659.48,219.71h6.40M662.68,216.51v6.40M659.58,216.61l6.21,6.21M659.58,222.82l6.21,-6.21M663.59,219.82h6.40M666.79,216.62v6.40M663.68,216.72l6.21,6.21M663.68,222.93l6.21,-6.21M667.69,219.92h6.40M670.89,216.72v6.40M667.78,216.82l6.21,6.21M667.78,223.02l6.21,-6.21M671.79,220.01h6.40M674.99,216.81v6.40M671.89,216.91l6.21,6.21M671.89,223.12l6.21,-6.21M675.89,220.10h6.40M679.09,216.90v6.40M675.99,217.00l6.21,6.21M675.99,223.21l6.21,-6.21M679.99,220.19h6.40M683.19,216.99v6.40M680.09,217.08l6.21,6.21M680.09,223.29l6.21,-6.21M684.10,220.26h6.40M687.30,217.06v6.40M684.19,217.16l6.21,6.21M684.19,223.37l6.21,-6.21M688.20,220.34h6.40M691.40,217.14v6.40M688.29,217.23l6.21,6.21M688.29,223.44l6.21,-6.21M692.30,220.40h6.40M695.50,217.20v6.40M692.40,217.30l6.21,6.21M692.40,223.50l6.21,-6.21M696.40,220.46h6.40M699.60,217.26v6.40M696.50,217.35l6.21,6.21M696.50,223.56l6.21,-6.21" stroke="#0808cc" stroke-width="1.2"/></g><text transform="translate(356.0,466.7) scale(1,1.04)" text-anchor="end" font-size="13.1" letter-spacing="0.05">Molecular statics, y = 0</text><path d="M363.5,462.5H401.8M379.40,462.50h6.40M382.60,459.30v6.40" stroke="#c03434" stroke-width="1" fill="none"/><text transform="translate(355.6,487.0) scale(1,1.04)" text-anchor="end" font-size="13.1">BEM, &#947;<tspan dx="1.9" dy="-7" font-size="9" stroke-width="0.1">*</tspan><tspan dy="10" font-size="8.5" stroke-width="0.15">ii</tspan><tspan dy="-3"> = 7.16%</tspan></text><path d="M363.5,482.4H401.8" stroke="#26d626" stroke-width="1" stroke-dasharray="3.6,2" fill="none"/><path d="M379.40,479.20l6.40,6.40M379.40,485.60l6.40,-6.40" stroke="#26d626" stroke-width="1.2" fill="none"/><text transform="translate(598.3,466.7) scale(1,1.04)" text-anchor="end" font-size="13.1">Inclusion, &#947;<tspan dx="1.2" dy="-7" font-size="9" stroke-width="0.1">*</tspan><tspan dy="10" font-size="8.5" stroke-width="0.15">ii</tspan><tspan dy="-3"> = 7.16%</tspan></text><path d="M606.2,462.4H642.2" stroke="#1c1cb0" stroke-width="1" stroke-dasharray="2.5,2.25" fill="none"/><path d="M622.20,462.40h6.40M625.40,459.20v6.40M622.30,459.30l6.21,6.21M622.30,465.50l6.21,-6.21" stroke="#0808cc" stroke-width="1.2" fill="none"/></g></svg>
</body></html>
